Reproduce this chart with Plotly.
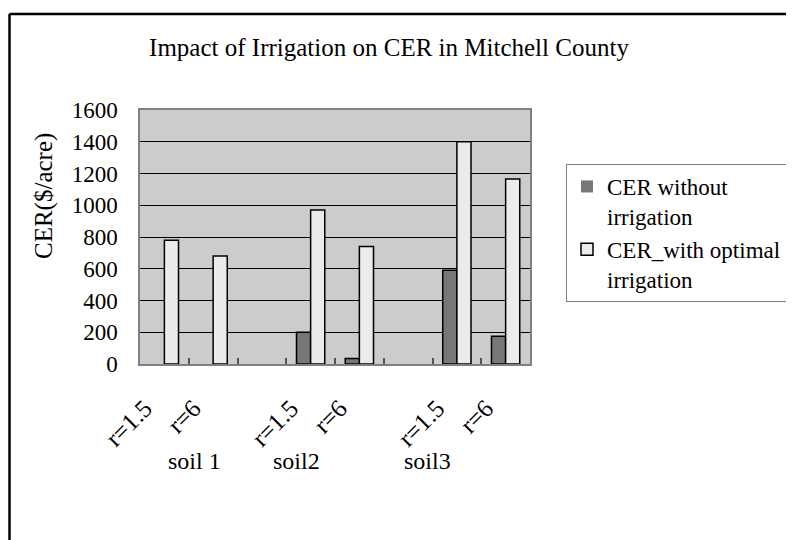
import plotly.graph_objects as go

categories = ["r=1.5", "r=6", "", "r=1.5", "r=6", "", "r=1.5", "r=6"]
cer_without = [0, 0, None, 200, 35, None, 590, 175]
cer_with = [780, 680, None, 970, 740, None, 1400, 1165]
groups = ["soil 1", "soil2", "soil3"]
group_pos = [0.61, 2.72, 5.39]
y_ticks = [0, 200, 400, 600, 800, 1000, 1200, 1400, 1600]

x = list(range(len(categories)))
tick_idx = [i for i, c in enumerate(categories) if c]

FONT = "Liberation Serif, Times New Roman, serif"
OFF = 8  # page body margin offset

# plot area in screen pixels (reference)
PL, PR, PT, PB = 140, 530, 110, 364
W, H = 794, 540


def px(xp):
    return (xp - PL) / (PR - PL)


def py(yp):
    return (PB - yp) / (PB - PT)


def line_widths(vals):
    return [0 if not v else 1.5 for v in vals]


fig = go.Figure()
fig.add_trace(go.Bar(x=x, y=cer_without, name="CER without<br>irrigation",
                     marker=dict(color="#777777",
                                 line=dict(color="black", width=line_widths(cer_without)))))
fig.add_trace(go.Bar(x=x, y=cer_with, name="CER_with optimal<br>irrigation",
                     marker=dict(color="#ebebeb",
                                 line=dict(color="black", width=line_widths(cer_with)))))

annotations = [dict(x=gx, y=0, xref="x", yref="paper", yshift=-82, text=g,
                    showarrow=False, yanchor="top", xanchor="center",
                    font=dict(size=24, family=FONT, color="black"))
               for g, gx in zip(groups, group_pos)]
annotations.append(dict(x=px(44), y=py(196), xref="paper", yref="paper", text="CER($/acre)",
                        textangle=-90, showarrow=False, xanchor="center", yanchor="middle",
                        font=dict(size=25, family=FONT, color="black")))

border = dict(color="black", width=2.5)
fig.update_layout(
    width=W, height=H,
    margin=dict(l=PL - OFF, r=W - PR + OFF, t=PT - OFF, b=H - PB + OFF, autoexpand=False),
    paper_bgcolor="white", plot_bgcolor="#cccccc",
    font=dict(family=FONT, size=25, color="black"),
    title=dict(text="Impact of Irrigation on CER in Mitchell County", x=px(389), xref="paper",
               y=(H - (47 - OFF)) / H, yanchor="middle", xanchor="center",
               font=dict(size=25, family=FONT, color="black")),
    barmode="group", bargap=0.42, bargroupgap=0,
    showlegend=True,
    legend=dict(x=px(566), y=py(164), xanchor="left", yanchor="top",
                bgcolor="white", bordercolor="#808080", borderwidth=1,
                font=dict(size=23, family=FONT, color="black"), valign="top",
                tracegroupgap=14),
    annotations=annotations,
    shapes=[
        dict(type="line", xref="paper", yref="paper", x0=px(9.5), x1=px(800),
             y0=py(14), y1=py(14), line=border, layer="above"),
        dict(type="line", xref="paper", yref="paper", x0=px(9.5), x1=px(9.5),
             y0=py(14), y1=py(600), line=border, layer="above"),
    ],
)
fig.update_xaxes(range=[-0.5, len(categories) - 0.5], tickvals=[i - 0.4 for i in tick_idx],
                 ticktext=[categories[i] for i in tick_idx], tickangle=-45,
                 ticks="", showgrid=False, zeroline=False, automargin=False,
                 showline=True, linecolor="#808080", linewidth=1.5, mirror=True,
                 ticklabelstandoff=18,
                 minor=dict(tickvals=[i + 0.5 for i in x[:-1]], ticks="inside", ticklen=6,
                            tickcolor="#555555", tickwidth=1.5, showgrid=False),
                 tickfont=dict(size=25, family=FONT, color="black"))
fig.update_yaxes(range=[0, 1600], tickvals=y_ticks, showgrid=True, gridcolor="black", gridwidth=1,
                 zeroline=False, showline=True, linecolor="#808080", linewidth=1.5, mirror=True,
                 ticks="", ticklabelstandoff=16, automargin=False,
                 tickfont=dict(size=23, family=FONT, color="black"))

fig.write_html("out.html")
